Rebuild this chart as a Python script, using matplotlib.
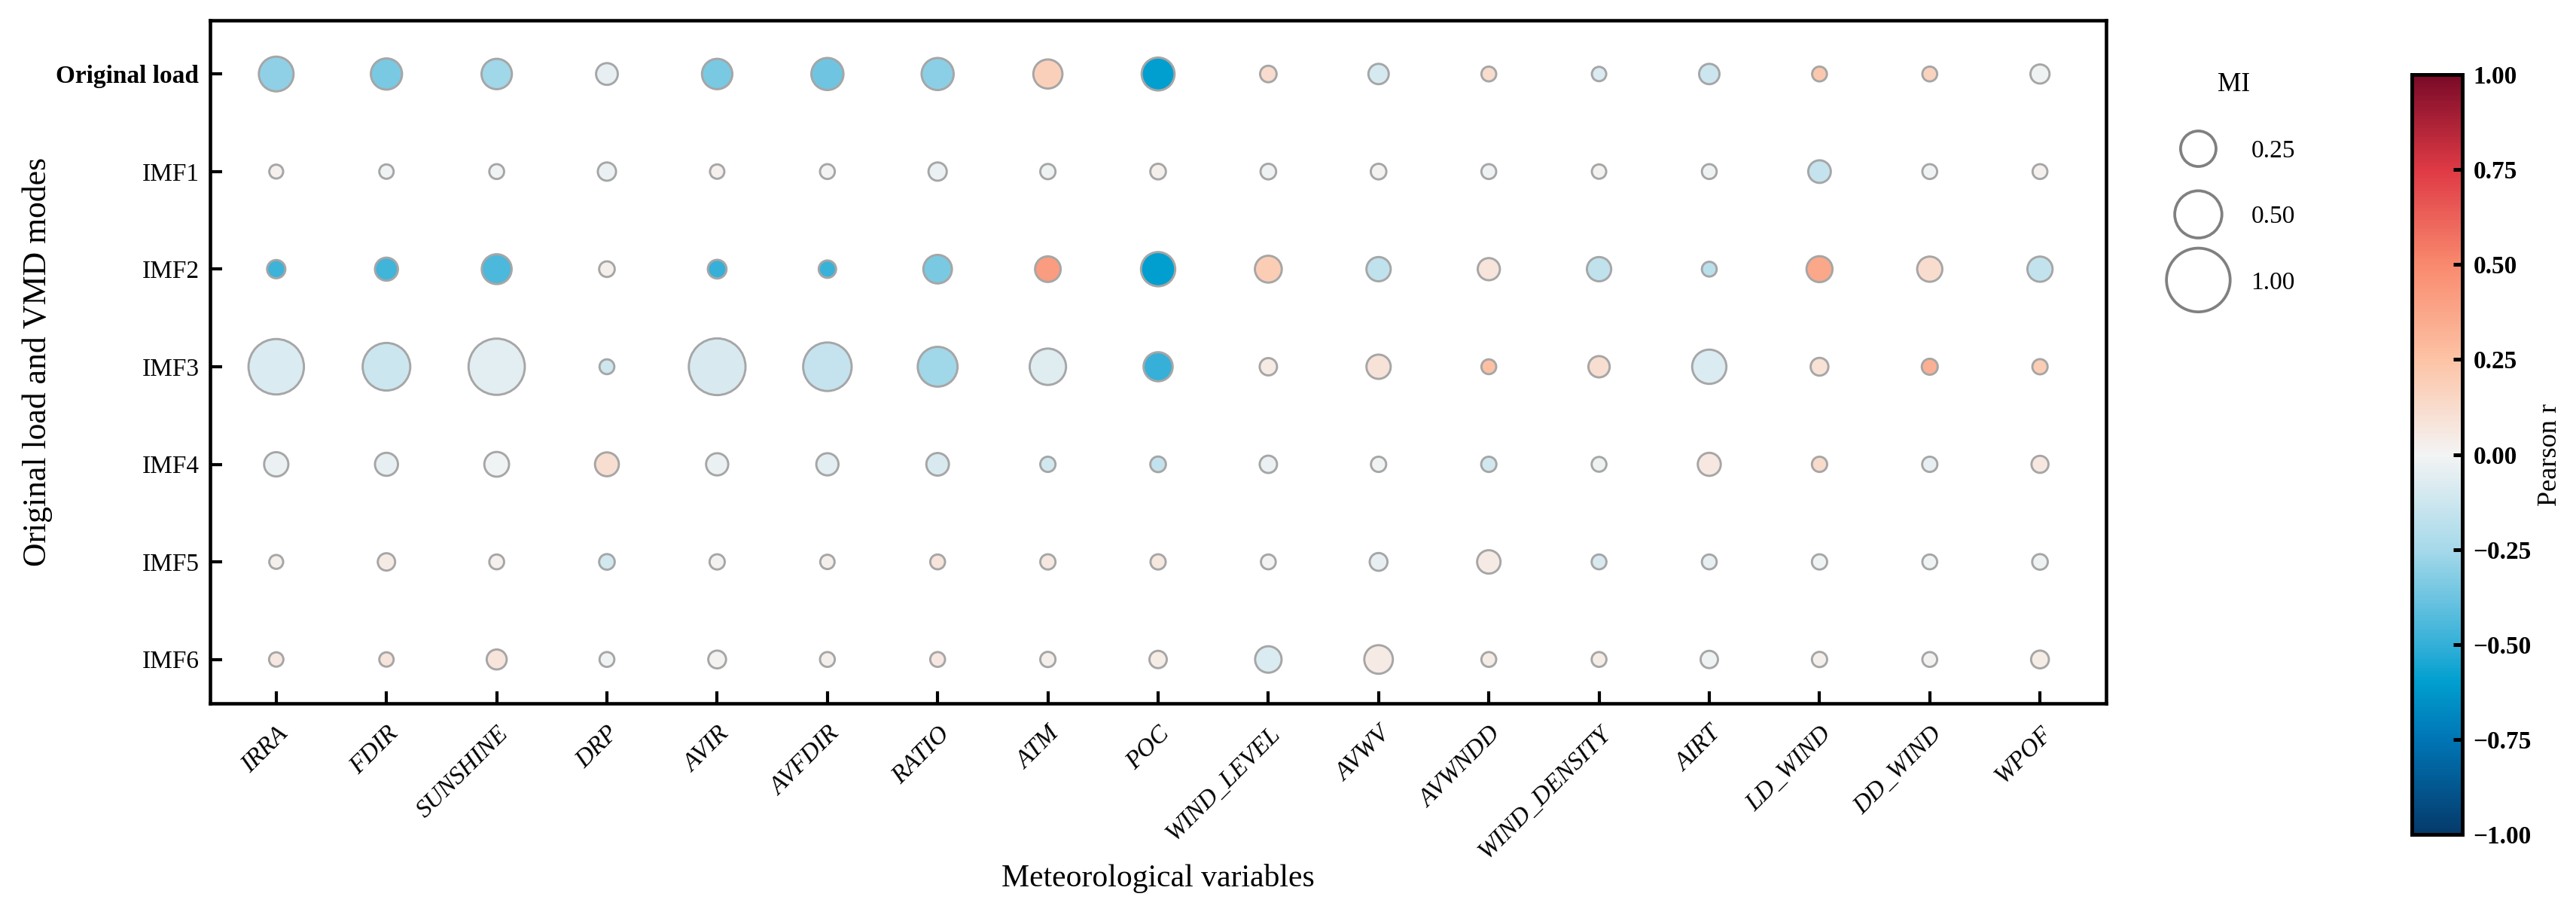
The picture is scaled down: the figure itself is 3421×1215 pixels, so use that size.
import numpy as np
import matplotlib
matplotlib.use("Agg")
import matplotlib.pyplot as plt
from matplotlib.colors import LinearSegmentedColormap
from matplotlib.ticker import FuncFormatter

plt.rcParams['font.family'] = ['Liberation Serif', 'DejaVu Serif']
plt.rcParams['font.size'] = 8

ROWS = ["Original load", "IMF1", "IMF2", "IMF3", "IMF4", "IMF5", "IMF6"]
VARIABLES = ["IRRA", "FDIR", "SUNSHINE", "DRP", "AVIR", "AVFDIR", "RATIO", "ATM",
             "POC", "WIND_LEVEL", "AVWV", "AVWNDD", "WIND_DENSITY", "AIRT",
             "LD_WIND", "DD_WIND", "WPOF"]

# Pearson r, one list per row
PEARSON = [
    [-0.30, -0.35, -0.26, -0.04, -0.35, -0.37, -0.31, 0.18, -0.60, 0.12, -0.10, 0.12, -0.08, -0.13, 0.22, 0.17, -0.02],
    [0.02, -0.01, -0.01, -0.03, 0.02, 0.00, -0.03, -0.02, 0.03, -0.02, 0.01, -0.02, 0.01, -0.02, -0.15, -0.01, 0.02],
    [-0.48, -0.47, -0.45, 0.03, -0.50, -0.49, -0.35, 0.42, -0.60, 0.20, -0.17, 0.08, -0.17, -0.18, 0.37, 0.12, -0.16],
    [-0.08, -0.13, -0.06, -0.12, -0.09, -0.15, -0.26, -0.07, -0.50, 0.05, 0.09, 0.26, 0.11, -0.08, 0.10, 0.33, 0.20],
    [-0.03, -0.04, -0.01, 0.11, -0.03, -0.06, -0.09, -0.11, -0.16, -0.03, -0.01, -0.11, -0.02, 0.06, 0.13, -0.04, 0.06],
    [0.03, 0.05, 0.02, -0.11, 0.01, 0.03, 0.08, 0.06, 0.07, 0.00, -0.04, 0.05, -0.09, -0.04, -0.01, -0.01, -0.02],
    [0.06, 0.08, 0.08, -0.01, 0.01, 0.03, 0.06, 0.03, 0.04, -0.08, 0.05, 0.04, 0.04, -0.02, 0.03, 0.01, 0.04],
]

# mutual information, one list per row
MI = [
    [0.237, 0.180, 0.168, 0.066, 0.168, 0.194, 0.194, 0.150, 0.207, 0.027, 0.054, 0.018, 0.016, 0.054, 0.018, 0.018, 0.044],
    [0.014, 0.016, 0.018, 0.038, 0.016, 0.018, 0.038, 0.020, 0.022, 0.022, 0.022, 0.018, 0.016, 0.018, 0.074, 0.018, 0.018],
    [0.038, 0.078, 0.161, 0.022, 0.041, 0.032, 0.143, 0.106, 0.229, 0.121, 0.091, 0.070, 0.091, 0.018, 0.110, 0.101, 0.101],
    [0.728, 0.511, 0.753, 0.018, 0.767, 0.534, 0.333, 0.266, 0.150, 0.032, 0.091, 0.018, 0.062, 0.229, 0.035, 0.024, 0.020],
    [0.091, 0.078, 0.096, 0.087, 0.070, 0.070, 0.074, 0.020, 0.022, 0.032, 0.020, 0.020, 0.018, 0.078, 0.020, 0.020, 0.030],
    [0.014, 0.032, 0.018, 0.022, 0.020, 0.016, 0.018, 0.020, 0.020, 0.018, 0.035, 0.082, 0.018, 0.018, 0.020, 0.018, 0.022],
    [0.016, 0.016, 0.051, 0.018, 0.035, 0.018, 0.018, 0.020, 0.032, 0.116, 0.143, 0.018, 0.018, 0.032, 0.020, 0.018, 0.035],
]

MI_LEGEND = [0.25, 0.50, 1.00]


def mi_to_size(mi):
    return (2.3 + 18.0 * np.sqrt(np.asarray(mi))) ** 2


cmap = LinearSegmentedColormap.from_list("pearson", [
    (0.0, "#053a6b"), (0.125, "#0076b6"), (0.2, "#009fcf"), (0.25, "#35b0d8"),
    (0.375, "#a6d9ea"), (0.5, "#f4f4f4"), (0.625, "#fdc3a5"), (0.75, "#f98a6e"),
    (0.875, "#df3a45"), (1.0, "#7a0a28")])

W, H = 3421, 1215
fig = plt.figure(figsize=(W / 300, H / 300), dpi=300)
ax = fig.add_axes([279 / W, 1 - 934 / H, (2797 - 279) / W, (934 - 27) / H])

r = np.array(PEARSON)
mi = np.array(MI)
xx, yy = np.meshgrid(np.arange(len(VARIABLES)), np.arange(len(ROWS)))
sc = ax.scatter(xx.ravel(), yy.ravel(), c=r.ravel(), s=mi_to_size(mi.ravel()),
                cmap=cmap, vmin=-1, vmax=1, edgecolors="#a6a6a6", linewidths=0.7,
                zorder=3)

ax.set_xlim(-0.6, len(VARIABLES) - 0.4)
ax.set_ylim(len(ROWS) - 0.55, -0.55)
ax.set_xticks(range(len(VARIABLES)))
ax.set_xticklabels(VARIABLES, rotation=45, ha="right", rotation_mode="anchor",
                   style="italic", fontsize=8)
ax.set_yticks(range(len(ROWS)))
ax.set_yticklabels(ROWS, fontsize=8)
ax.get_yticklabels()[0].set_fontweight("bold")
ax.tick_params(direction="in", length=3.8, width=1.0)
ax.tick_params(axis="x", pad=6)
for sp in ax.spines.values():
    sp.set_linewidth(1.1)

ax.set_xlabel("Meteorological variables", fontsize=10)
ax.xaxis.set_label_coords(0.5, -0.235)
ax.set_ylabel("Original load and VMD modes", fontsize=10.5)
ax.yaxis.set_label_coords(-0.083, 0.5)

# size legend
handles = [ax.scatter([], [], s=mi_to_size(v), facecolors="none",
                      edgecolors="#808080", linewidths=0.9) for v in MI_LEGEND]
leg = ax.legend(handles, ["%.2f" % v for v in MI_LEGEND], title="MI",
                loc="upper center", bbox_to_anchor=(2967 / W, 1 - 66 / H),
                bbox_transform=fig.transFigure, frameon=False, fontsize=8,
                title_fontsize=8.5, labelspacing=1.7, handletextpad=1.1,
                scatterpoints=1, scatteryoffsets=[0.5])

# colorbar
cax = fig.add_axes([3203 / W, 1 - 1108 / H, 67 / W, (1108 - 99) / H])
cbar = fig.colorbar(sc, cax=cax)
cbar.set_ticks(np.arange(-1, 1.01, 0.25))
cbar.ax.yaxis.set_major_formatter(FuncFormatter(lambda v, p: ("%.2f" % v).replace("-", "\u2212")))
cbar.ax.tick_params(direction="in", length=3.0, width=1.2, labelsize=8)
for t in cbar.ax.get_yticklabels():
    t.set_fontweight("bold")
cbar.outline.set_linewidth(1.2)
cbar.set_label("Pearson r", fontsize=8.7, labelpad=2)

fig.savefig("out.png", dpi=300)
